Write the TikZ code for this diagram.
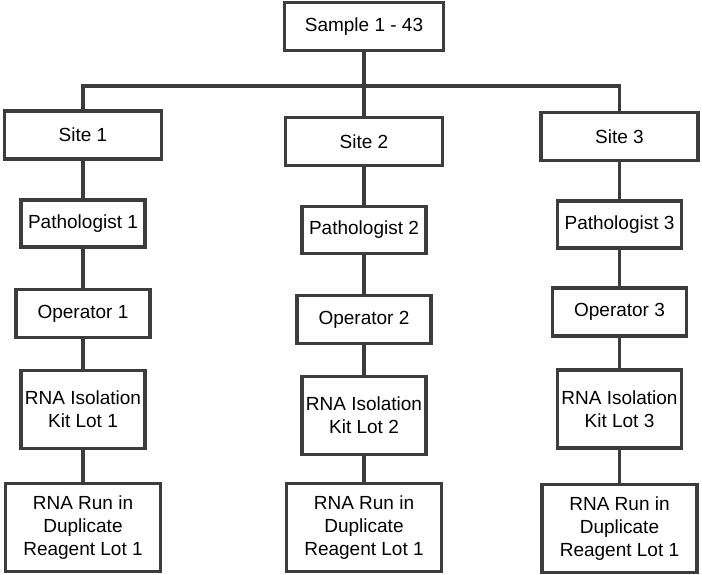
\documentclass[tikz,border=0pt]{standalone}
\usepackage{fontspec}
\setmainfont{Liberation Sans}
\usetikzlibrary{positioning}
\definecolor{boxgray}{HTML}{3C3C3C}

\begin{document}
\begin{tikzpicture}[x=1pt,y=-1pt,on grid,node distance=90pt,
    box/.style={draw=boxgray,line width=3.5pt,fill=white,align=center,inner sep=2pt,
      font=\fontsize{19}{23}\selectfont},
    topbox/.style={box,minimum width=159pt,minimum height=48pt},
    sitebox/.style={box,minimum width=157pt,minimum height=48pt},
    pathbox/.style={box,minimum width=124pt,minimum height=47pt},
    operbox/.style={box,minimum width=134pt,minimum height=48pt},
    isobox/.style={box,minimum width=124pt,minimum height=78pt},
    runbox/.style={box,minimum width=155pt,minimum height=88pt},
    link/.style={draw=boxgray,line width=3.2pt}]
    \useasboundingbox (0,0) rectangle (702,575);
    \node[topbox]  (sample) at (364,26.5) {Sample 1 - 43};
    \node[sitebox] (site1) at (83,135) {Site 1};
    \node[sitebox] (site2) [below=115pt of sample] {Site 2};
    \node[sitebox] (site3) at (619.5,136.5) {Site 3};
    \coordinate (bus) at (364,86);
    % column 1
    \node[pathbox] (path1) [below=88.5pt of site1] {Pathologist 1};
    \node[operbox] (oper1) [below=90pt of path1] {Operator 1};
    \node[isobox]  (iso1) [below=96pt of oper1] {RNA Isolation\\Kit Lot 1};
    \node[runbox]  (run1) [below=118pt of iso1] {RNA Run in\\Duplicate\\Reagent Lot 1};
    % column 2
    \node[pathbox] (path2) [below=88.5pt of site2] {Pathologist 2};
    \node[operbox] (oper2) [below=89.5pt of path2] {Operator 2};
    \node[isobox]  (iso2) [below=96pt of oper2] {RNA Isolation\\Kit Lot 2};
    \node[runbox]  (run2) [below=112pt of iso2] {RNA Run in\\Duplicate\\Reagent Lot 1};
    % column 3
    \node[pathbox] (path3) [below=88pt of site3] {Pathologist 3};
    \node[operbox] (oper3) [below=87.5pt of path3] {Operator 3};
    \node[isobox]  (iso3) [below=97pt of oper3] {RNA Isolation\\Kit Lot 3};
    \node[runbox]  (run3) [below=119.5pt of iso3] {RNA Run in\\Duplicate\\Reagent Lot 1};
    % connectors
    \path[link] (sample) -- (site2)
      (site1.north) -- (site1 |- bus) -| (site3.north)
      (site1) -- (path1) (path1) -- (oper1) (oper1) -- (iso1) (iso1) -- (run1)
      (site2) -- (path2) (path2) -- (oper2) (oper2) -- (iso2) (iso2) -- (run2)
      (site3) -- (path3) (path3) -- (oper3) (oper3) -- (iso3) (iso3) -- (run3)
      ; %end path
  \end{tikzpicture}
\end{document}
